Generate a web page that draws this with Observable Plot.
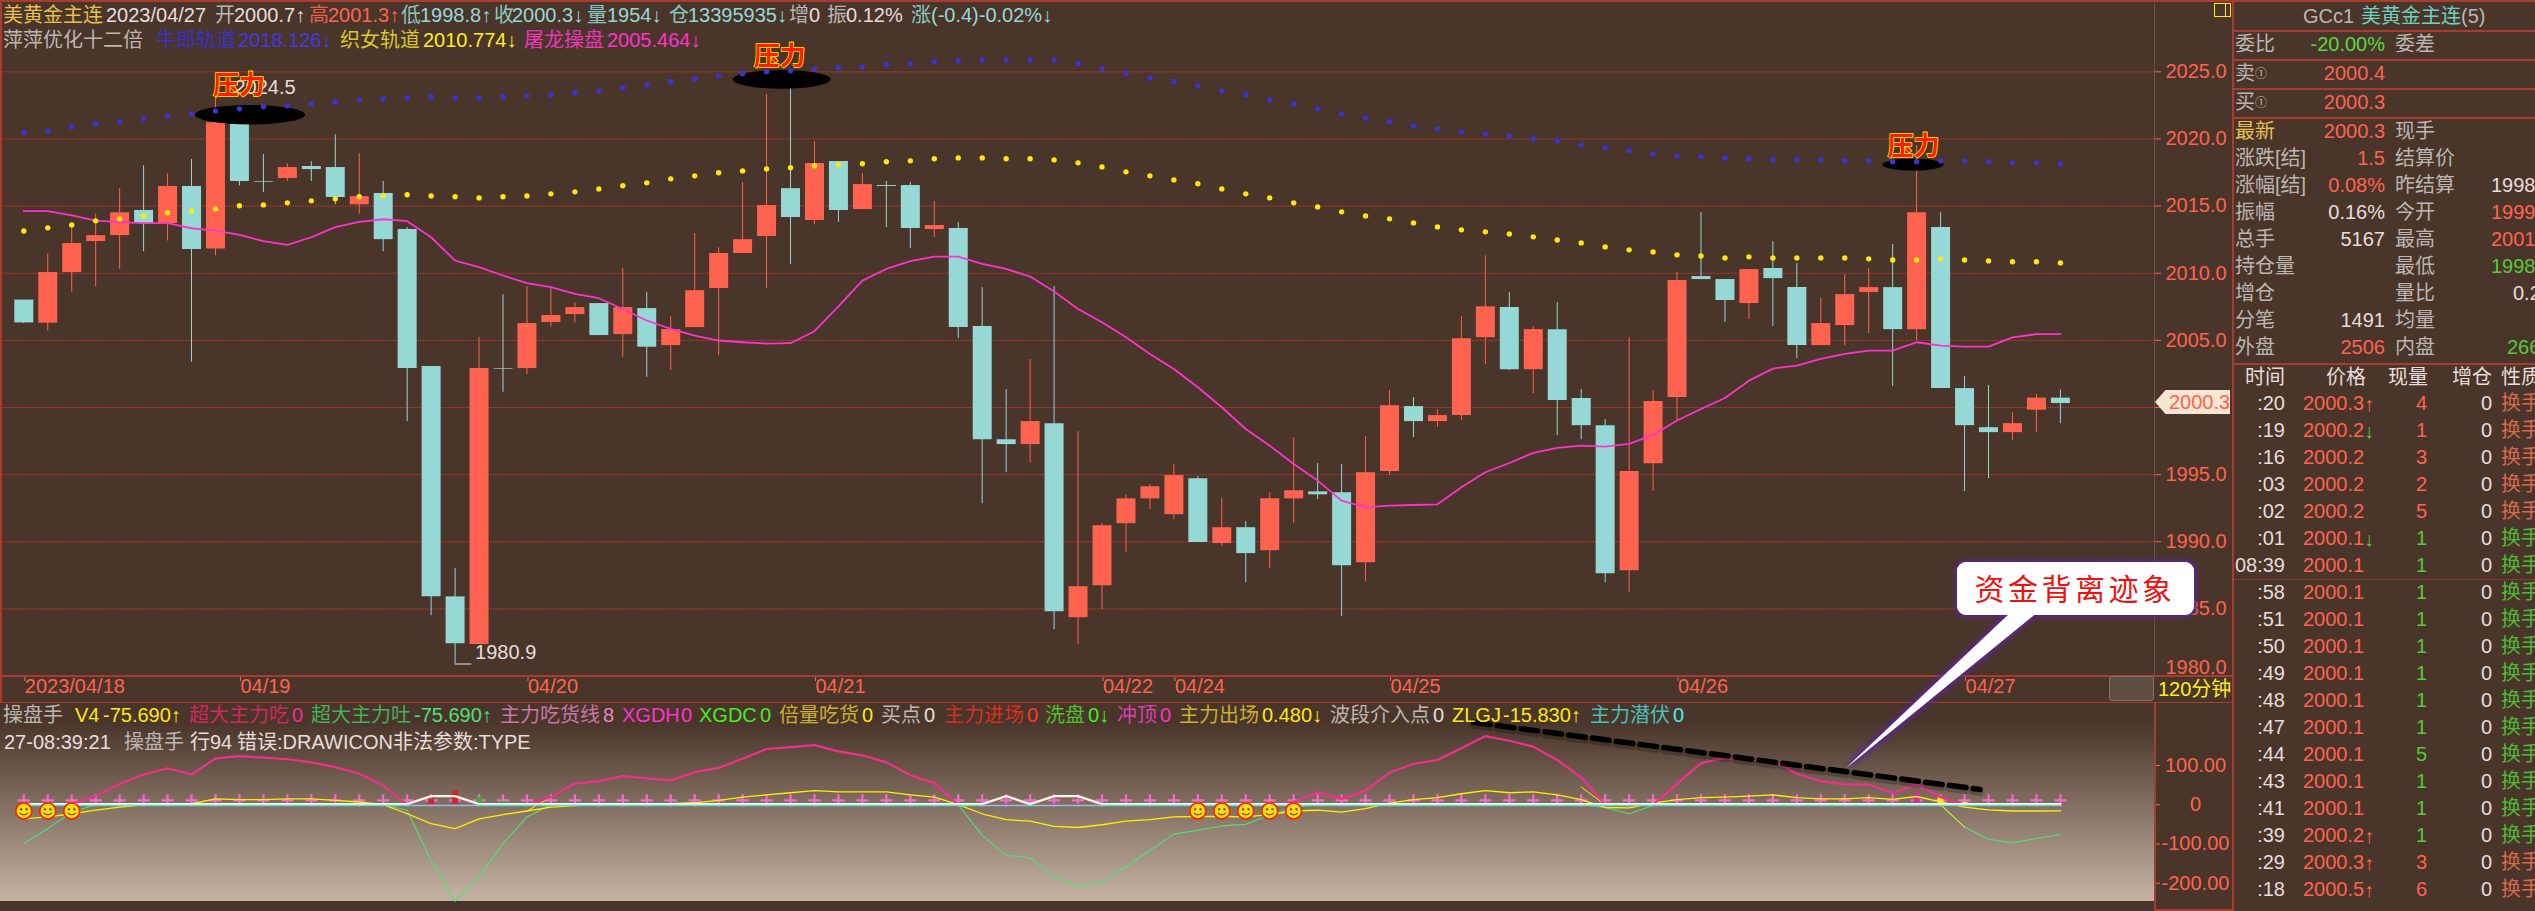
<!DOCTYPE html>
<html lang="zh">
<head>
<meta charset="utf-8">
<title>美黄金主连</title>
<script src="https://cdn.jsdelivr.net/npm/d3@7"></script>
<script src="https://cdn.jsdelivr.net/npm/@observablehq/plot@0.6"></script>
<style>
html,body{margin:0;padding:0;background:#493529;overflow:hidden}
#page{position:relative;width:2535px;height:911px;overflow:hidden;background:#493529;font-family:"Liberation Sans","Noto Sans CJK SC",sans-serif;font-size:20px}
.t{position:absolute;white-space:nowrap;transform:translateY(-50%);line-height:1}
.r{position:absolute;background:#a83c2e}
svg{position:absolute}
</style>
</head>
<body>
<div id="page"></div>
<script>
const open =[2008.0,2006.28,2010.05,2012.36,2012.8,2014.67,2013.7,2016.46,2011.8,2021.08,2016.83,2017.05,2017.95,2017.87,2015.1,2015.94,2013.25,2003.05,1985.9,1982.36,2002.88,2002.9,2006.33,2006.92,2007.74,2005.43,2007.37,2004.61,2005.95,2008.86,2011.47,2012.73,2016.3,2013.92,2018.32,2014.74,2016.53,2016.53,2013.25,2013.33,2006.03,1997.6,1997.24,1998.8,1984.35,1986.73,1991.35,1993.2,1992.02,1994.7,1989.87,1991.05,1989.34,1993.2,1993.72,1993.65,1988.45,1995.23,2000.07,1998.95,1999.4,2005.2,2007.44,2002.82,2005.8,2000.67,1998.65,1987.85,1995.82,2000.74,2009.75,2009.53,2007.74,2010.35,2008.93,2004.61,2006.1,2008.56,2008.93,2005.8,2013.4,2001.41,1998.5,1998.13,1999.8,2000.7];
const high =[2008.0,2011.44,2013.4,2014.4,2016.3,2018.0,2017.4,2018.47,2024.5,2021.2,2018.84,2018.15,2018.3,2020.3,2018.9,2016.83,2013.4,2003.05,1988.0,2005.23,2008.4,2009.0,2008.96,2007.8,2007.74,2010.35,2008.56,2006.77,2012.96,2011.9,2016.76,2023.3,2024.06,2019.8,2018.32,2017.43,2016.83,2016.76,2015.34,2013.78,2008.93,2001.33,2003.57,2009.0,1998.2,1991.35,1993.5,1994.25,1995.75,1994.86,1993.2,1991.5,1993.65,1997.76,1995.82,1995.75,1997.83,2001.26,2000.74,1999.85,2006.77,2011.3,2008.56,2006.03,2007.82,2001.33,1999.1,2005.23,2001.26,2010.05,2014.5,2009.53,2010.27,2012.36,2010.72,2008.11,2009.9,2010.35,2012.14,2019.5,2014.5,2002.3,2001.64,1999.6,2001.0,2001.3];
const low  =[2006.25,2005.68,2008.6,2009.0,2010.3,2011.6,2012.4,2003.37,2011.3,2016.5,2016.0,2016.83,2016.83,2015.1,2014.4,2011.6,1998.95,1984.5,1980.9,1982.36,2001.14,2002.45,2005.98,2006.28,2005.36,2003.74,2002.25,2002.75,2005.95,2003.86,2011.47,2008.86,2010.65,2013.6,2013.8,2014.74,2013.4,2011.84,2012.66,2005.13,1992.84,1995.15,1995.9,1983.46,1982.34,1984.95,1989.2,1992.4,1991.65,1989.94,1989.65,1986.96,1988.0,1991.35,1993.14,1984.43,1987.03,1994.93,1997.76,1998.5,1999.03,2003.2,2002.75,2001.04,1997.9,1997.6,1986.96,1986.2,1993.74,1998.95,2009.53,2006.33,2006.55,2006.03,2003.64,2004.61,2004.6,2005.5,2001.56,2005.0,2001.41,1993.74,1994.7,1997.56,1998.13,1998.8];
const close=[2006.3,2010.05,2012.21,2012.8,2014.5,2013.7,2016.46,2011.76,2021.2,2016.83,2016.78,2017.87,2017.72,2015.64,2015.7,2012.5,2002.9,1985.9,1982.41,2002.9,2002.83,2006.25,2006.85,2007.44,2005.36,2007.44,2004.49,2005.8,2008.7,2011.47,2012.5,2015.04,2014.15,2018.17,2014.67,2016.6,2016.46,2013.33,2013.55,2005.95,1997.6,1997.24,1998.95,1984.8,1986.66,1991.2,1993.2,1994.1,1994.93,1989.94,1991.05,1989.12,1993.2,1993.8,1993.5,1988.22,1995.15,2000.14,1998.95,1999.4,2005.13,2007.5,2002.82,2005.8,2000.52,1998.65,1987.63,1995.23,2000.44,2009.46,2009.53,2007.97,2010.27,2009.6,2004.61,2006.25,2008.41,2008.93,2005.8,2014.5,2001.41,1998.65,1998.13,1998.8,2000.7,2000.3];
const cowherd=[2020.46,2020.60,2020.90,2021.13,2021.28,2021.50,2021.72,2021.87,2022.09,2022.24,2022.39,2022.47,2022.62,2022.77,2022.91,2022.99,2023.06,2023.14,2023.06,2023.06,2023.14,2023.21,2023.29,2023.44,2023.58,2023.81,2024.03,2024.26,2024.48,2024.70,2024.85,2025.00,2025.07,2025.22,2025.30,2025.37,2025.52,2025.60,2025.74,2025.82,2025.89,2025.89,2025.89,2025.89,2025.60,2025.22,2024.85,2024.55,2024.26,2023.96,2023.58,2023.29,2022.91,2022.62,2022.24,2021.87,2021.57,2021.28,2020.98,2020.75,2020.53,2020.38,2020.23,2020.01,2019.86,2019.56,2019.34,2019.11,2018.89,2018.74,2018.67,2018.59,2018.52,2018.44,2018.44,2018.44,2018.37,2018.37,2018.30,2018.30,2018.37,2018.37,2018.30,2018.22,2018.22,2018.13];
const weaver=[2013.15,2013.38,2013.60,2013.90,2014.05,2014.27,2014.50,2014.64,2014.79,2015.02,2015.09,2015.24,2015.39,2015.54,2015.69,2015.76,2015.84,2015.76,2015.69,2015.61,2015.69,2015.76,2015.91,2016.06,2016.28,2016.51,2016.73,2017.03,2017.25,2017.48,2017.62,2017.77,2017.85,2018.00,2018.07,2018.15,2018.30,2018.37,2018.52,2018.59,2018.59,2018.52,2018.52,2018.44,2018.22,2017.92,2017.55,2017.25,2016.95,2016.66,2016.28,2015.91,2015.61,2015.24,2014.94,2014.57,2014.27,2014.05,2013.75,2013.45,2013.23,2013.08,2012.93,2012.71,2012.48,2012.26,2011.96,2011.74,2011.59,2011.37,2011.29,2011.14,2011.22,2011.14,2011.14,2011.14,2011.14,2011.07,2010.99,2010.99,2011.07,2010.99,2010.92,2010.85,2010.85,2010.77];
const dragon=[2014.62,2014.62,2014.30,2013.92,2013.80,2013.73,2013.73,2013.35,2013.18,2012.86,2012.39,2012.11,2012.68,2013.43,2013.83,2014.02,2013.88,2012.68,2010.94,2010.45,2009.83,2009.26,2008.96,2008.46,2008.14,2007.34,2006.48,2005.85,2005.36,2004.99,2004.86,2004.76,2004.79,2005.68,2007.54,2009.45,2010.32,2010.90,2011.24,2011.24,2010.70,2010.32,2009.75,2008.64,2007.34,2006.35,2005.23,2003.99,2002.87,2001.51,2000.02,1998.40,1997.16,1995.80,1994.56,1993.07,1992.57,1992.69,1992.74,1992.79,1994.06,1995.18,1995.87,1996.62,1996.99,1997.16,1997.09,1997.29,1997.96,1999.03,1999.89,2000.71,2002.00,2002.90,2003.12,2003.62,2003.99,2004.24,2004.24,2004.86,2004.61,2004.54,2004.54,2005.23,2005.46,2005.46];
const bigEat=[0,0,2,22,53,77,93,77,118,124,120,116,108,96,79,49,0,0,0,0,0,0,19.5,54,60,73,67,62,83,94,117,142,147,152,136,126,108,75,55,0,0,0,0,0,0,0,0,0,0,0,0,0,0,7,31,15,36,82,104,114,144,175,163,148,114,70,0,0,0,53,106,119,114,113,79,60,52,51,30,52,19,0,0,0,0,0];
const v4Line=[-36,-31,-23,-14,-6,0,2.5,2.5,15,13,13,15,15,11,7,0,-23,-48,-61,-36,-25,-16,-6,-2.5,2.5,2.5,2.5,2.5,5,11,19.5,25,30.5,36,33,33,33,25,19.5,0,-23,-38,-42,-55,-58,-51,-42,-38,-31,-30,-30,-31,-25,-16,-14,-19,-10,4,13,18,28,36,30.5,33,25,13,-7,-8,4,13,18,19.5,22,25,18,15,15,18,13.5,21,7,-6,-13,-16,-16,-15.83];
const bigSpit=[-99,-61,-19,0,0,0,0,0,0,0,0,0,0,0,0,0,-14,-142,-246,-184,-99,-31,0,0,0,0,0,0,0,0,0,0,0,0,0,0,0,0,0,0,-78,-129,-135,-184,-208,-197,-158,-116,-75,-65,-54,-50,-27,-6,0,0,0,0,0,0,0,0,0,0,0,0,-7,-23,-2,0,0,0,0,0,0,0,0,0,0,0,0,-57,-88,-97,-86,-75.69];
const whiteBumps=[[17,22],[18,22],[41,22],[43,22],[44,22]];
const spikeSegments=[[[15,49],[16,0]],[[21,-16],[22,19]],[[65,45],[66,0]],[[80,0],[81,-57]]];
const panelBars=[[17,15,"#c8282a"],[18,36,"#c8282a"],[19,18,"#35b030"],[20,8,"#35b030"],[21,4,"#35b030"],[79,32,"#d0309c"],[80,18,"#ffe810"],[81,6,"#ffe810"]];
const smileIndex=[0,1,2,49,50,51,52,53];
const dateTicks=[0,9,21,33,45,48,57,69,81];
const dateLabels=["2023/04/18","04/19","04/20","04/21","04/22","04/24","04/25","04/26","04/27"];
const priceTicks=[1985,1990,1995,2000,2005,2010,2015,2020,2025];
const panelTicks=[100,0,-100,-200];
const panelTickLabels=["100.00","0","-100.00","-200.00"];
const pressure=[[8.98,2023.93],[31.55,2026.09],[78.87,2019.44]];
const blobs=[[9.46,2021.77,55,9.7],[31.65,2024.4,49,9.3],[78.87,2018.05,30.6,6]];
const tradeTimes=[":20",":19",":16",":03",":02",":01","08:39",":58",":51",":50",":49",":48",":47",":44",":43",":41",":39",":29",":18"];
const tradePrices=["2000.3","2000.2","2000.2","2000.2","2000.2","2000.1","2000.1","2000.1","2000.1","2000.1","2000.1","2000.1","2000.1","2000.1","2000.1","2000.1","2000.2","2000.3","2000.5"];
const tradeArrows=["↑","↓","","","","↓","","","","","","","","","","","↑","↑","↑"];
const tradeVolumes=[4,1,3,2,5,1,1,1,1,1,1,1,1,5,1,1,1,3,6];
const tradeBuySide=[1,1,1,1,1,0,0,0,0,0,0,0,0,0,0,0,0,1,1];

const C={bg:"#493529",red:"#ff6350",teal:"#96d8d6",grid:"#c43c2c",line:"#a83c2e",gray:"#bdb5b2",white:"#e8dcdc",green:"#58c83c"};
const FONT='"Liberation Sans","Noto Sans CJK SC",sans-serif';
const page=document.getElementById("page");
const idx=d3.range(open.length);
const xScale={domain:[0,85],range:[23.3,2059.9]};

function ellipseMark(rows,fill){
  return (index,scales)=>{
    const g=d3.create("svg:g");
    for(const [i,v,rx,ry] of rows)
      g.append("ellipse").attr("cx",scales.x(i)).attr("cy",scales.y(v)).attr("rx",rx).attr("ry",ry).attr("fill",fill);
    return g.node();
  };
}
const pressureStyle={text:()=>"压力",fontSize:26,fontWeight:"bold",fontFamily:'"Noto Sans CJK SC"',fill:"#ff1a00",stroke:"#ffe600",strokeWidth:1.6,paintOrder:"stroke"};

const main=Plot.plot({
  width:2232,height:702,marginLeft:0,marginRight:78,marginTop:0,marginBottom:27,
  style:{background:"transparent",position:"absolute",left:"0",top:"0",overflow:"visible",fontFamily:FONT,maxWidth:"none"},
  x:{...xScale},
  y:{domain:[1980,2025],range:[675.6,71.3]},
  marks:[
    Plot.gridY(priceTicks,{stroke:C.grid,strokeOpacity:1,strokeWidth:1,strokeDasharray:"1.5 1"}),
    Plot.axisY({anchor:"right",ticks:priceTicks,tickFormat:d=>d.toFixed(1),tickSize:6,tickPadding:5,color:C.red,fontSize:20,label:null}),
    Plot.axisY({anchor:"right",ticks:[1980],tickFormat:d=>d.toFixed(1),tickSize:0,tickPadding:11,dy:-9,fill:C.red,stroke:"none",fontSize:20,label:null}),
    Plot.axisX({anchor:"bottom",ticks:dateTicks,tickFormat:d=>dateLabels[dateTicks.indexOf(d)],textAnchor:"start",tickSize:6,tickPadding:-3,dx:1,color:C.red,fontSize:20,label:null}),
    Plot.ruleX(idx,{x:d=>d,y1:d=>low[d],y2:d=>high[d],stroke:d=>close[d]>=open[d]?C.red:C.teal,strokeWidth:1}),
    Plot.ruleX(idx,{x:d=>d,y1:d=>open[d],y2:d=>close[d],stroke:d=>close[d]>=open[d]?C.red:C.teal,strokeWidth:19}),
    Plot.line(idx,{x:d=>d,y:d=>dragon[d],stroke:"#ff33cc",strokeWidth:1.8}),
    ellipseMark(blobs,"#000"),
    Plot.dot(idx,{x:d=>d,y:d=>cowherd[d],r:2.7,fill:"#4030d8"}),
    Plot.dot(idx,{x:d=>d,y:d=>weaver[d],r:2.7,fill:"#ffe810"}),
    Plot.ruleY([1980.9],{x1:18,x2:18.7,stroke:"#f0e0d8",strokeWidth:1}),
    Plot.text([1],{x:()=>8,y:()=>2024.5,text:()=>"2024.5",textAnchor:"start",dx:19,dy:9,fill:C.white,fontSize:20}),
    Plot.text([1],{x:()=>18,y:()=>1980.9,text:()=>"1980.9",textAnchor:"start",dx:20,dy:-11,fill:C.white,fontSize:20}),
    Plot.text(pressure,{x:d=>d[0],y:d=>d[1],...pressureStyle})
  ]
});
page.appendChild(main);

// indicator panel
const grad=document.createElement("div");
grad.style.cssText="position:absolute;left:0;top:702px;width:2154px;height:199px;background:linear-gradient(#493529 10%,#c6b3a3 100%)";
page.appendChild(grad);
const smile="data:image/svg+xml,"+encodeURIComponent('<svg xmlns="http://www.w3.org/2000/svg" viewBox="0 0 20 20"><circle cx="10" cy="10" r="9" fill="#ffdc14" stroke="#f02a10" stroke-width="2"/><circle cx="7" cy="8" r="1.3" fill="#7a5a00"/><circle cx="13" cy="8" r="1.3" fill="#7a5a00"/><path d="M5.5 12 Q10 16.5 14.5 12" fill="none" stroke="#7a5a00" stroke-width="1.3"/></svg>');
const panel=Plot.plot({
  width:2232,height:209,marginLeft:0,marginRight:78,marginTop:0,marginBottom:10,
  style:{background:"transparent",position:"absolute",left:"0",top:"702px",overflow:"visible",fontFamily:FONT,maxWidth:"none"},
  x:{...xScale,axis:null},
  y:{domain:[-200,100],range:[180.7,63],axis:null},
  marks:[
    Plot.axisY({anchor:"right",ticks:panelTicks,tickFormat:d=>panelTickLabels[panelTicks.indexOf(d)],tickSize:5,tickPadding:36,textAnchor:"middle",color:C.red,fontSize:20,label:null}),
    Plot.dot(idx,{x:d=>d,y:()=>11,symbol:"plus",r:4,stroke:"#f070c8",strokeWidth:2.2}),
    Plot.ruleX(panelBars,{x:d=>d[0],y1:0,y2:d=>d[1],stroke:d=>d[2],strokeWidth:6}),
    Plot.line(idx,{x:d=>d,y:d=>bigSpit[d],stroke:"#4fe07a",strokeWidth:1.1}),
    Plot.line(idx,{x:d=>d,y:d=>v4Line[d],stroke:"#ffee00",strokeWidth:1.3}),
    ...spikeSegments.map(s=>Plot.line(s,{x:d=>d[0],y:d=>d[1],stroke:"#ffee00",strokeWidth:1})),
    Plot.line(idx,{x:d=>d,y:d=>bigEat[d],stroke:"#f0308c",strokeWidth:2.2}),
    Plot.line(idx,{x:d=>d,y:d=>(whiteBumps.find(b=>b[0]===d)||[0,1.5])[1],stroke:"#fdf0e8",strokeWidth:2.4}),
    Plot.ruleY([-2],{x1:0,x2:85,stroke:"#4fe0d0",strokeWidth:1.6}),
    Plot.image(smileIndex,{x:d=>d,y:()=>-16,src:()=>smile,width:18,height:18}),
    Plot.line([[60.5,210],[81.65,39]],{x:d=>d[0],y:d=>d[1],stroke:"#000",strokeOpacity:.22,strokeWidth:7,dy:3,strokeDasharray:"17 7"}),
    Plot.line([[60.5,210],[81.65,39]],{x:d=>d[0],y:d=>d[1],stroke:"#000",strokeWidth:5.5,strokeDasharray:"17 7"})
  ]
});
page.appendChild(panel);

// frame lines
function rule(x,y,w,h,c){const e=document.createElement("div");e.className="r";e.style.cssText=`left:${x}px;top:${y}px;width:${w}px;height:${h}px;`+(c?`background:${c}`:"");page.appendChild(e);return e;}
rule(0,0,2535,2);rule(0,0,1.5,702);
rule(0,675,2232,1.5);rule(0,701.5,2232,1.5);
rule(2232,0,1.5,911);
rule(2154,0,1,675,"#6b5848");
rule(2154,702,2,208);rule(2154,909,78,2);
[30,59,88,117,363].forEach(y=>rule(2232,y,303,1.5));
const dotted=rule(2233,578.5,302,1,"transparent");dotted.style.borderTop="1.5px dotted #c8402c";
const btn=rule(2109,676,45,25,"#5f4e41");btn.style.border="1px solid #85746a";btn.style.borderRadius="3px";btn.style.boxSizing="border-box";
const sq=rule(2214,3,15,12,"transparent");sq.style.border="1.5px solid #ffe810";
rule(2224.5,3,1.5,13,"#ffe810");

function t(x,y,txt,color,opt={}){
  const e=document.createElement("div");e.className="t";e.textContent=txt;
  let css=`top:${y}px;color:${color};`;
  if(opt.right!==undefined) css+=`right:${2535-opt.right}px;`; else css+=`left:${x}px;`;
  e.style.cssText=css+(opt.css||"");page.appendChild(e);return e;
}
// header
const Y1=15,Y2=40;
[[3,"美黄金主连","#e4c050"],[106,"2023/04/27",C.white],[215,"开",C.gray],[234,"2000.7↑",C.white],[309,"高","#e8604c"],[328,"2001.3↑",C.red],[401,"低","#8cc8c0"],[420,"1998.8↑",C.teal],[494,"收","#8cc8c0"],[512,"2000.3↓",C.teal],[587,"量","#8cc8c0"],[607,"1954↓",C.teal],[669,"仓","#8cc8c0"],[688,"13395935↓",C.teal],[789,"增",C.gray],[809,"0",C.white],[827,"振",C.gray],[846,"0.12%",C.white],[911,"涨","#8cc8c0"],[931,"(-0.4)-0.02%↓",C.teal]].forEach(a=>t(a[0],Y1,a[1],a[2]));
[[3,"萍萍优化十二倍",C.gray],[156,"牛郎轨道","#3c30c8"],[238,"2018.126↓","#4438e0"],[340,"织女轨道","#d8c830"],[423,"2010.774↓","#ffee20"],[524,"屠龙操盘","#e838b8"],[607,"2005.464↓","#ff33cc"]].forEach(a=>t(a[0],Y2,a[1],a[2]));
// indicator legend
const Y3=715,Y4=742;
[[3,"操盘手",C.gray],[75,"V4","#ffe810"],[103,"-75.690↑","#ffe810"],[189,"超大主力吃","#d02860"],[292,"0","#f0308c"],[311,"超大主力吐","#45b060"],[414,"-75.690↑","#4fe07a"],[500,"主力吃货线","#c878a8"],[603,"8","#ee82cc"],[622,"XGDH","#ff33cc"],[681,"0","#ff33cc"],[699,"XGDC","#44ee22"],[760,"0","#44ee22"],[779,"倍量吃货","#c8b030"],[862,"0","#ffe810"],[881,"买点",C.gray],[924,"0",C.white],[944,"主力进场","#d83020"],[1027,"0","#ff3a28"],[1045,"洗盘","#50c030"],[1088,"0↓","#44ee22"],[1117,"冲顶","#d840b8"],[1160,"0","#ff33cc"],[1179,"主力出场","#c8b030"],[1262,"0.480↓","#ffe810"],[1330,"波段介入点",C.gray],[1433,"0",C.white],[1452,"ZLGJ","#ffe810"],[1503,"-15.830↑","#ffe810"],[1590,"主力潜伏","#48c0b8"],[1673,"0","#48f0e8"]].forEach(a=>t(a[0],Y3,a[1],a[2]));
[[4,"27-08:39:21",C.white],[124,"操盘手",C.gray],[190,"行94",C.white],[237,"错误:DRAWICON非法参数:TYPE",C.white]].forEach(a=>t(a[0],Y4,a[1],a[2]));
t(2158,689,"120分钟","#ffee20");

// price tag
const tag=document.createElement("div");
tag.style.cssText="position:absolute;left:2155px;top:390px;width:75px;height:24px;background:#f7e6d2;clip-path:polygon(0 50%,14% 0,100% 0,100% 100%,14% 100%)";
page.appendChild(tag);
t(2169,402,"2000.3",C.red);

// right quote panel
const vx=2385;
t(2303,16,"GCc1",C.gray);t(2361,16,"美黄金主连","#70d0c0");t(2461,16,"(5)",C.gray);
t(2235,44,"委比",C.gray);t(0,44,"-20.00%","#58d840",{right:vx});t(2395,44,"委差",C.gray);
t(2235,73,"卖",C.gray);t(2255,74,"①",C.gray,{css:"font-size:12px"});t(0,73,"2000.4",C.red,{right:vx});
t(2235,102,"买",C.gray);t(2255,103,"①",C.gray,{css:"font-size:12px"});t(0,102,"2000.3",C.red,{right:vx});
t(2235,131,"最新","#e4c050");t(0,131,"2000.3",C.red,{right:vx});t(2395,131,"现手",C.gray);
const rows=[[158,"涨跌[结]","1.5",C.red,"结算价","",C.white],[185,"涨幅[结]","0.08%",C.red,"昨结算","1998",C.white],[212,"振幅","0.16%",C.white,"今开","1999",C.red],[239,"总手","5167",C.white,"最高","2001",C.red],[266,"持仓量","",C.white,"最低","1998",C.green],[293,"增仓","",C.white,"量比","0.2",C.white],[320,"分笔","1491",C.white,"均量","",C.white],[347,"外盘","2506",C.red,"内盘","266",C.green]];
rows.forEach(r=>{t(2235,r[0],r[1],C.gray);if(r[2])t(0,r[0],r[2],r[3],{right:vx});t(2395,r[0],r[4],C.gray);if(r[5])t(r[1]==="外盘"?2507:(r[5]==="0.2"?2513:2491),r[0],r[5],r[6]);});
t(2245,377,"时间",C.white);t(2326,377,"价格",C.white);t(2388,377,"现量",C.white);t(2452,377,"增仓",C.white);t(2501,377,"性质",C.white);
tradeTimes.forEach((s,i)=>{
  const y=403+27*i,col=tradeBuySide[i]?C.red:C.green;
  t(0,y,s,C.white,{right:2285});
  t(2303,y,tradePrices[i],C.red);
  if(tradeArrows[i]) t(2364,y+1,tradeArrows[i],tradeArrows[i]==="↑"?C.red:C.green);
  t(0,y,String(tradeVolumes[i]),col,{right:2427});
  t(0,y,"0",C.white,{right:2492});
  t(2501,y,"换手",tradeBuySide[i]?"#d86850":"#50b838");
});

// callout
const ns="http://www.w3.org/2000/svg";
const over=document.createElementNS(ns,"svg");
over.setAttribute("width",2535);over.setAttribute("height",911);
over.style.cssText="left:0;top:0;pointer-events:none";
over.innerHTML=`<defs><filter id="g" x="-20%" y="-20%" width="140%" height="140%"><feMorphology in="SourceAlpha" operator="dilate" radius="1.5" result="d"/><feGaussianBlur in="d" stdDeviation="2" result="b"/><feFlood flood-color="#5a2490"/><feComposite in2="b" operator="in" result="s"/><feMerge><feMergeNode in="s"/><feMergeNode in="SourceGraphic"/></feMerge></filter></defs>
<path filter="url(#g)" fill="#fff" d="M1966 562H2185a9 9 0 0 1 9 9V606a9 9 0 0 1 -9 9H2034L1846 768L2008 615H1966a9 9 0 0 1 -9 -9V571a9 9 0 0 1 9 -9Z"/>
<text x="2075" y="600" text-anchor="middle" font-family='"Noto Sans CJK SC"' font-size="30" letter-spacing="3.5" fill="#f01010">资金背离迹象</text>`;
page.appendChild(over);
</script>
</body>
</html>
